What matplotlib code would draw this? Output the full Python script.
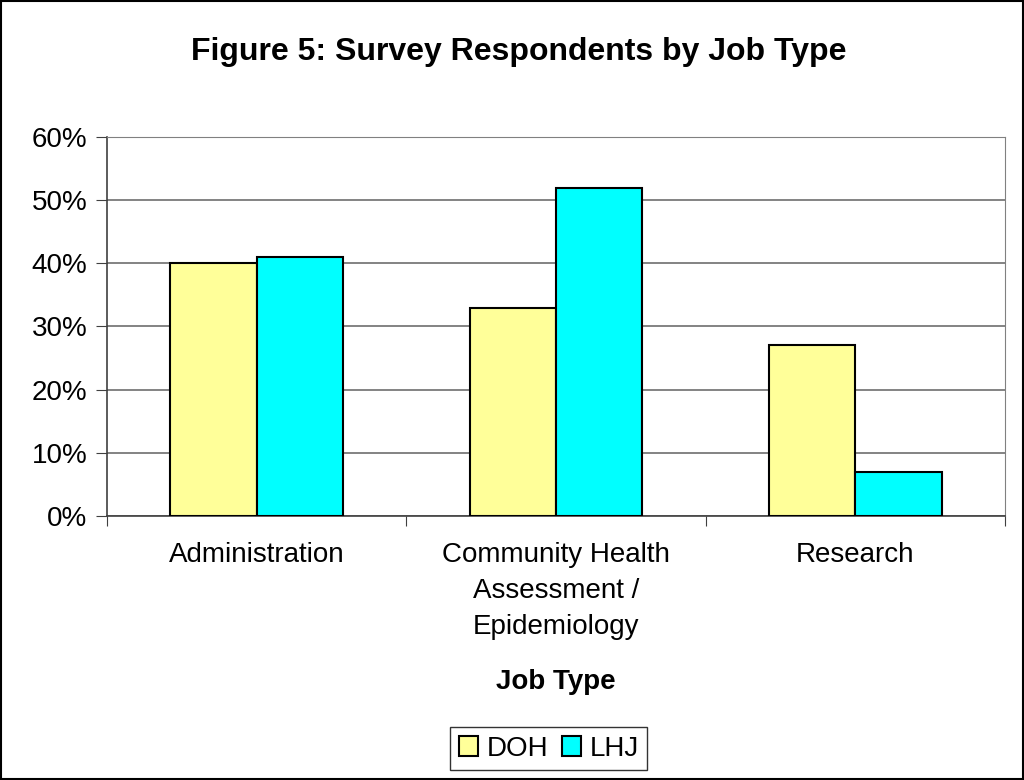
import matplotlib
matplotlib.use("Agg")
import matplotlib.pyplot as plt
import numpy as np
from matplotlib.ticker import FuncFormatter

categories = ["Administration", "Community Health\nAssessment /\nEpidemiology", "Research"]
doh = [40, 33, 27]
lhj = [41, 52, 7]

plt.rcParams['font.family'] = ['Liberation Sans', 'DejaVu Sans']

fig = plt.figure(figsize=(10.24, 7.8), dpi=100)
ax = fig.add_axes([0.1045, 0.3385, 0.877, 0.4859])

x = np.arange(len(categories))
w = 0.288
ax.bar(x - w/2, doh, w, color='#FFFF99', edgecolor='black', linewidth=1.5, label='DOH', zorder=3)
ax.bar(x + w/2, lhj, w, color='#00FFFF', edgecolor='black', linewidth=1.5, label='LHJ', zorder=3)

ax.set_xlim(-0.5, 2.5)
ax.set_ylim(0, 60)
ax.set_yticks(range(0, 61, 10))
ax.yaxis.set_major_formatter(FuncFormatter(lambda v, p: f"{v:.0f}%"))
ax.grid(axis='y', color='#6e6e6e', linewidth=1.2, zorder=0)

# category labels centered, tick marks on boundaries
ax.set_xticks([-0.5, 0.5, 1.5, 2.5])
ax.set_xticklabels([])
ax.set_xticks(x, minor=True)
ax.set_xticklabels(categories, minor=True, fontsize=20, linespacing=1.48)
ax.tick_params(axis='x', which='minor', length=0, pad=19)
ax.tick_params(axis='x', which='major', length=7, color='#404040')
ax.tick_params(axis='y', labelsize=20, length=8, color='#404040', pad=6)

for s in ['top', 'right']:
    ax.spines[s].set_color('#808080')
for s in ['left', 'bottom']:
    ax.spines[s].set_color('#404040')
    ax.spines[s].set_linewidth(1.2)

ax.set_xlabel("Job Type", fontsize=20, fontweight='bold', labelpad=21)
fig.suptitle("Figure 5: Survey Respondents by Job Type", fontsize=23, fontweight='bold', x=0.507, y=0.952)

leg = fig.legend(loc='lower center', bbox_to_anchor=(0.536, 0.013), ncol=2, fontsize=20,
                 frameon=True, fancybox=False, edgecolor='black', handlelength=0.7,
                 handleheight=0.7, handletextpad=0.3, columnspacing=0.5, borderpad=0.3,
                 borderaxespad=0)
leg.get_frame().set_linewidth(1.0)

fig.patches.append(plt.Rectangle((0.001, 0.001), 0.998, 0.998, transform=fig.transFigure,
                                 fill=False, edgecolor='black', linewidth=1.5))

fig.savefig("out.png", dpi=100)
